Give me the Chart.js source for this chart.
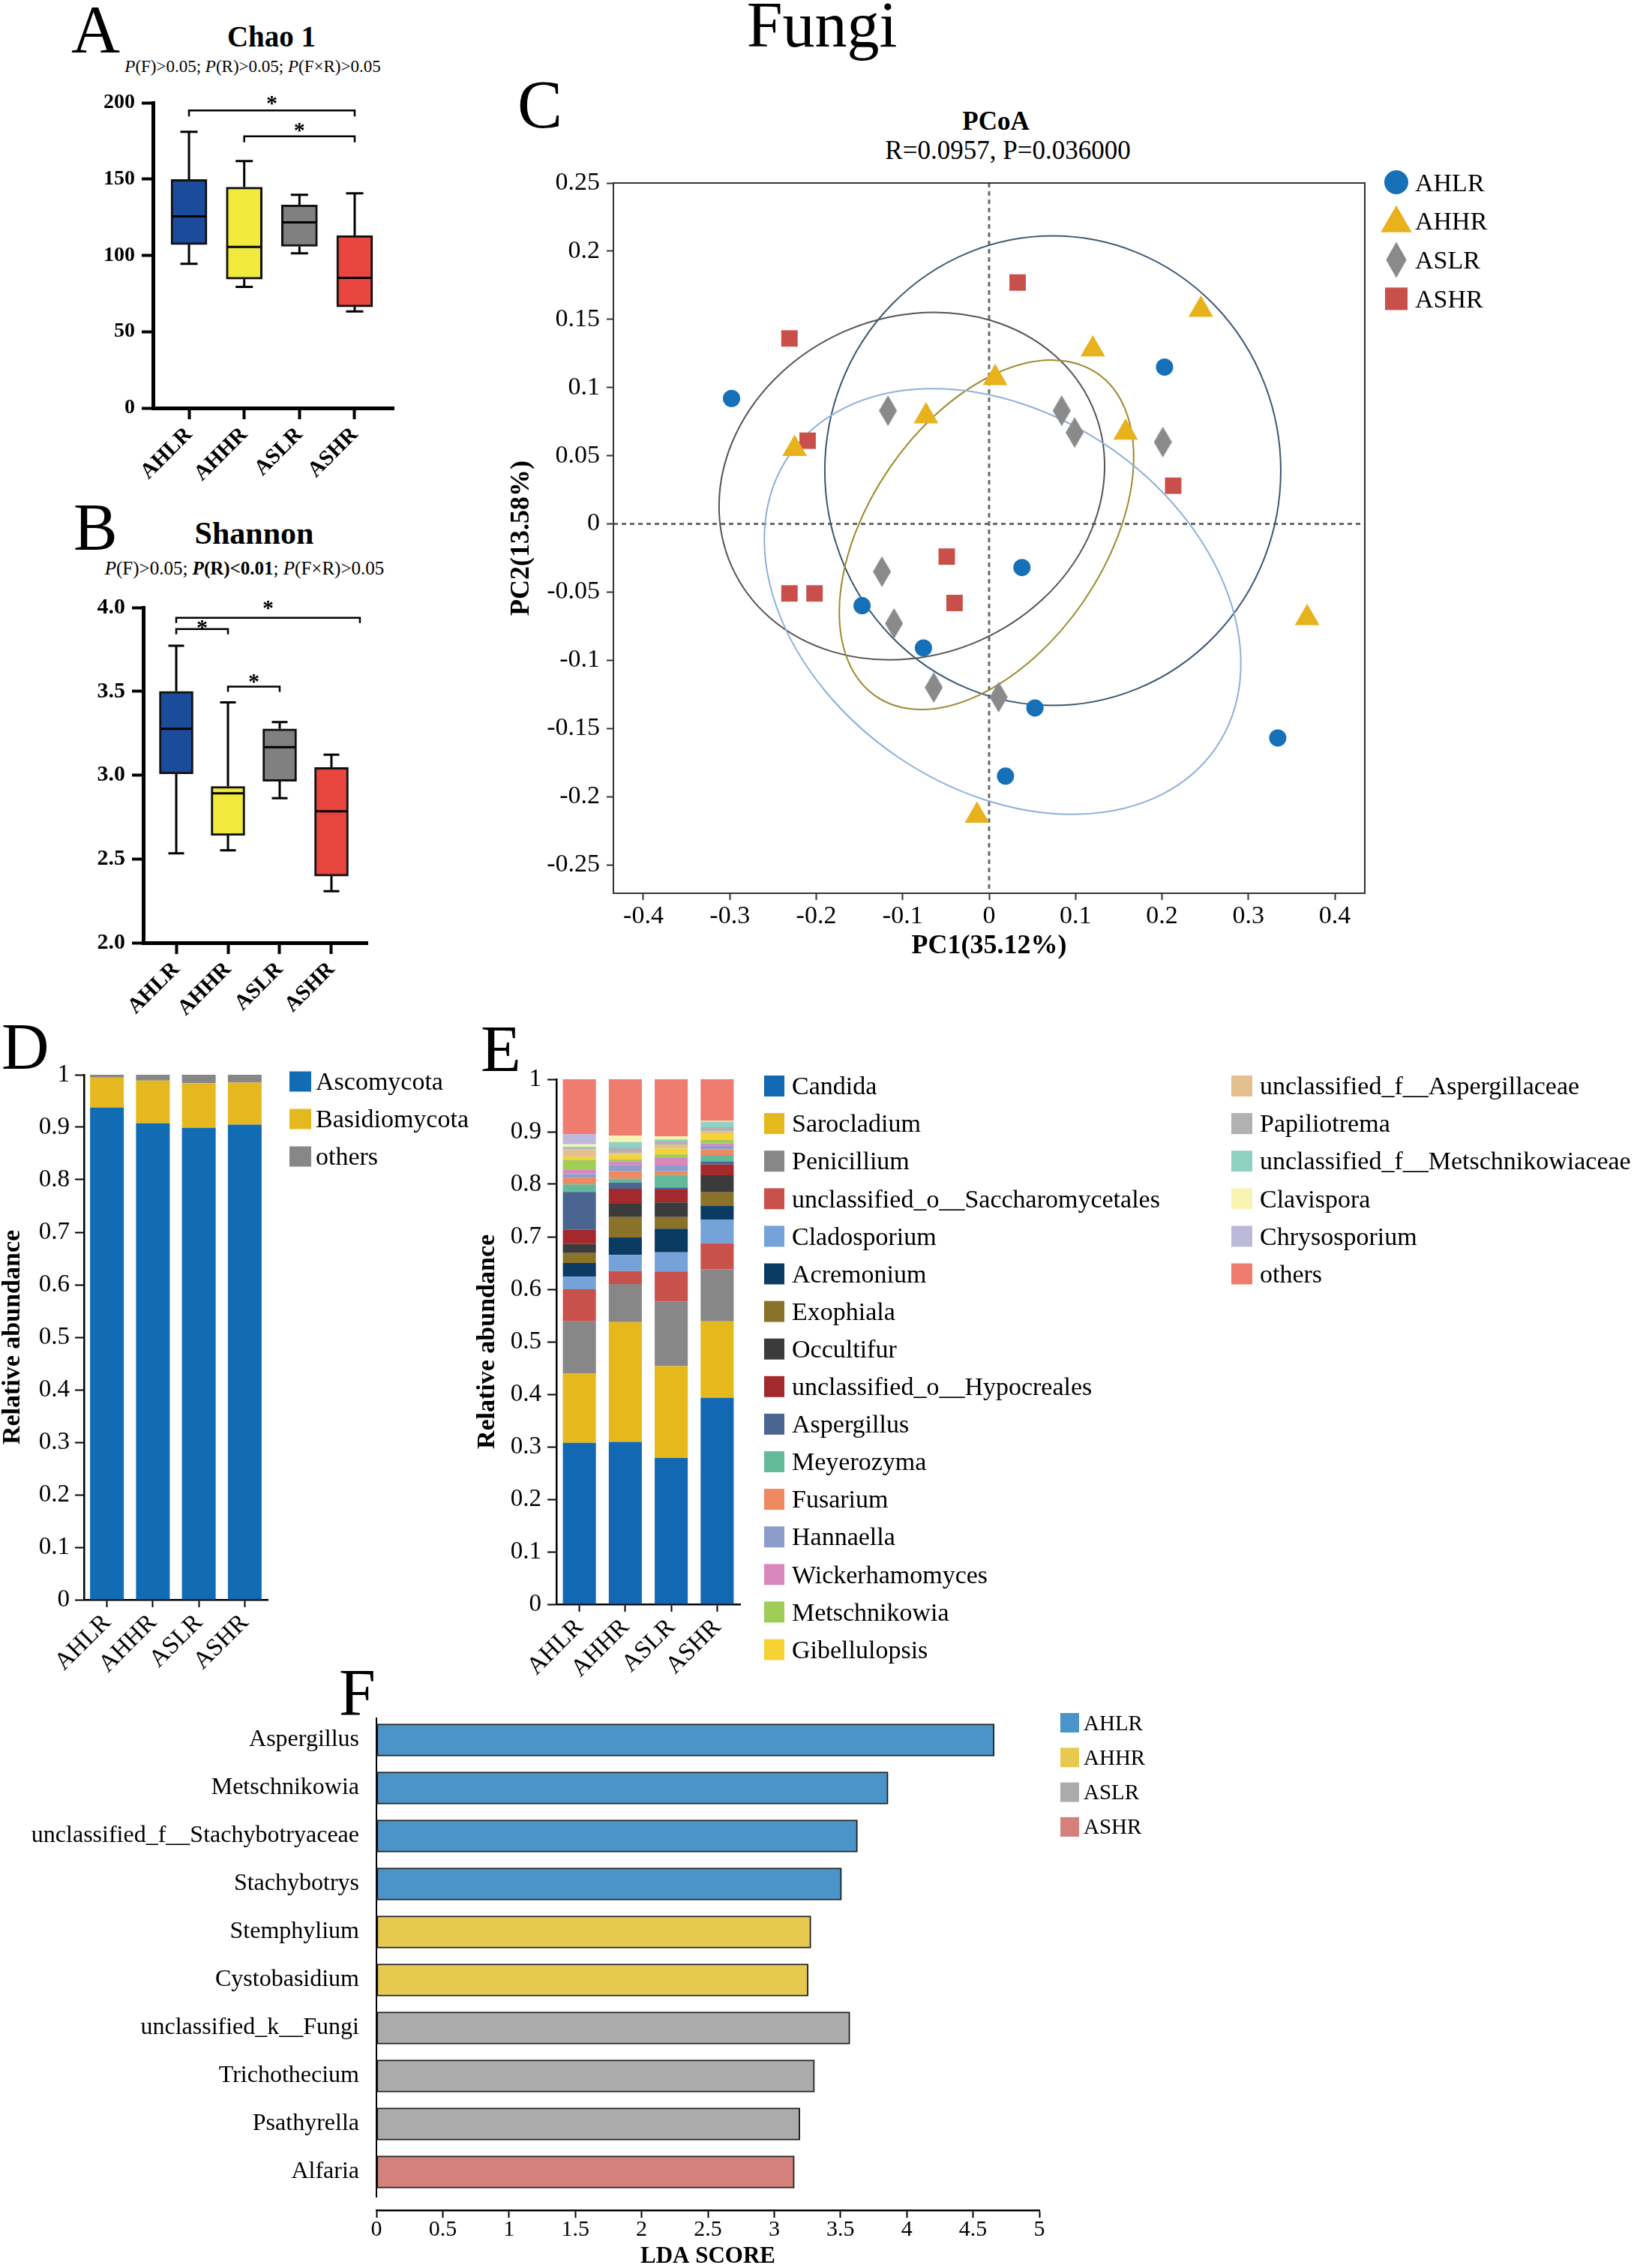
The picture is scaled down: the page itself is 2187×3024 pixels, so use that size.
<!DOCTYPE html>
<html>
<head>
<meta charset="utf-8">
<script src="https://cdn.jsdelivr.net/npm/chart.js@4.4.1/dist/chart.umd.min.js"></script>
<style>
  body { margin: 0; background: #fff; }
  #fig { position: relative; width: 2187px; height: 3024px; overflow: hidden; background: #fff;
         font-family: 'Liberation Serif', 'Times New Roman', Times, serif; color: #000; }
  #fig canvas { position: absolute; }
  .t { position: absolute; line-height: 1; white-space: nowrap; }
</style>
</head>
<body>
<div id="fig"></div>
<script>
// === DATA ===
const groups = ['AHLR', 'AHHR', 'ASLR', 'ASHR'];

// A - Chao 1 (box plot stats per group)
const chaoMin = [94.5, 79.4, 101.3, 63.3];
const chaoQ1  = [107.1, 84.4, 105.9, 66.3];
const chaoMed = [125.6, 105.5, 121.6, 85.2];
const chaoQ3  = [149.7, 144.7, 133.0, 113.0];
const chaoMax = [180.9, 161.8, 139.7, 140.7];
const chaoTicks = [0, 50, 100, 150, 200];
const chaoSig = [[0, 3, 195], [1, 3, 178]];          // from, to, height

// B - Shannon
const shanMin = [2.533, 2.552, 2.862, 2.308];
const shanQ1  = [3.007, 2.640, 2.964, 2.398];
const shanMed = [3.276, 2.892, 3.167, 2.784];
const shanQ3  = [3.500, 2.933, 3.276, 3.046];
const shanMax = [3.772, 3.434, 3.317, 3.122];
const shanTicks = [2.0, 2.5, 3.0, 3.5, 4.0];
const shanSig = [[0, 3.55, 3.939], [0, 1, 3.871], [1, 2, 3.528]];

// C - PCoA
const ahlrPC1 = [-0.298, 0.203, -0.147, -0.076, 0.038, 0.053, 0.334, 0.019];
const ahlrPC2 = [0.092, 0.115, -0.060, -0.091, -0.032, -0.135, -0.157, -0.185];
const ahhrPC1 = [-0.225, -0.073, 0.007, 0.120, 0.245, 0.158, 0.368, -0.014];
const ahhrPC2 = [0.055, 0.079, 0.107, 0.128, 0.157, 0.067, -0.069, -0.214];
const aslrPC1 = [-0.117, 0.084, 0.099, 0.201, -0.124, -0.110, -0.064, 0.011];
const aslrPC2 = [0.083, 0.083, 0.067, 0.060, -0.035, -0.073, -0.120, -0.127];
const ashrPC1 = [-0.231, 0.033, -0.210, 0.213, -0.049, -0.231, -0.202, -0.040];
const ashrPC2 = [0.136, 0.177, 0.061, 0.028, -0.024, -0.051, -0.051, -0.058];
const pcXTicks = [-0.4, -0.3, -0.2, -0.1, 0, 0.1, 0.2, 0.3, 0.4];
const pcYTicks = [-0.25, -0.2, -0.15, -0.1, -0.05, 0, 0.05, 0.1, 0.15, 0.2, 0.25];
// confidence ellipses: centre, semi-axes (PC1 units), rotation (deg)
const ellCx  = [0.0737, -0.0894, -0.0030, 0.0156];
const ellCy  = [0.0390, 0.0277, -0.0080, -0.0569];
const ellA   = [0.2638, 0.2282, 0.2265, 0.2993];
const ellB   = [0.2716, 0.1952, 0.1362, 0.2169];
const ellRot = [0, -24, -55.6, 34.4];

// D - phylum
const phyla = ['Ascomycota', 'Basidiomycota', 'others'];
const ascomycota    = [0.9376, 0.9076, 0.899, 0.905];
const basidiomycota = [0.0571, 0.0814, 0.085, 0.080];
const phylumOthers  = [0.0053, 0.0110, 0.016, 0.015];
const abTicks = [0, 0.1, 0.2, 0.3, 0.4, 0.5, 0.6, 0.7, 0.8, 0.9, 1];

// E - genus
const genera = ['Candida', 'Sarocladium', 'Penicillium', 'unclassified_o__Saccharomycetales',
  'Cladosporium', 'Acremonium', 'Exophiala', 'Occultifur', 'unclassified_o__Hypocreales',
  'Aspergillus', 'Meyerozyma', 'Fusarium', 'Hannaella', 'Wickerhamomyces', 'Metschnikowia',
  'Gibellulopsis', 'unclassified_f__Aspergillaceae', 'Papiliotrema',
  'unclassified_f__Metschnikowiaceae', 'Clavispora', 'Chrysosporium', 'others'];
const genAHLR = [0.3075, 0.1320, 0.0996, 0.0610, 0.0240, 0.0260, 0.0190, 0.0170, 0.0270, 0.0723, 0.0143,
                 0.0129, 0.0066, 0.0091, 0.0181, 0.0057, 0.0143, 0.0022, 0.0030, 0.0043, 0.0195, 0.1048];
const genAHHR = [0.3092, 0.2284, 0.0725, 0.0247, 0.0305, 0.0333, 0.0390, 0.0253, 0.0285, 0.0119, 0.0072,
                 0.0143, 0.0119, 0.0071, 0.0038, 0.0091, 0.0028, 0.0105, 0.0105, 0.0124, 0.0000, 0.1071];
const genASLR = [0.2787, 0.1748, 0.1228, 0.0577, 0.0363, 0.0450, 0.0223, 0.0276, 0.0248, 0.0038, 0.0238,
                 0.0071, 0.0110, 0.0143, 0.0067, 0.0110, 0.0081, 0.0057, 0.0038, 0.0062, 0.0000, 0.1085];
const genASHR = [0.3932, 0.1459, 0.0989, 0.0495, 0.0453, 0.0264, 0.0256, 0.0322, 0.0206, 0.0058, 0.0124,
                 0.0107, 0.0074, 0.0041, 0.0066, 0.0124, 0.0041, 0.0074, 0.0107, 0.0016, 0.0000, 0.0791];

// F - LEfSe
const ldaTaxa = ['Aspergillus', 'Metschnikowia', 'unclassified_f__Stachybotryaceae', 'Stachybotrys',
  'Stemphylium', 'Cystobasidium', 'unclassified_k__Fungi', 'Trichothecium', 'Psathyrella', 'Alfaria'];
const ldaScore = [4.66, 3.859, 3.628, 3.508, 3.277, 3.257, 3.571, 3.304, 3.194, 3.152];
const ldaGroup = [0, 0, 0, 0, 1, 1, 2, 2, 2, 3];
const ldaTicks = [0, 0.5, 1, 1.5, 2, 2.5, 3, 3.5, 4, 4.5, 5];

// === STYLES ===
const boxColors = ['#1b4c9c', '#f1e93c', '#808080', '#e8453f'];
const pcColors  = ['#1670b8', '#e8b21d', '#8a8a8a', '#c9504a'];
const ellColors = ['#3d5873', '#555555', '#9b8b2e', '#8eb0d9'];
const dColors   = ['#126cb4', '#e6b820', '#878787'];
const eColors   = ['#1268b3', '#e5b81c', '#878787', '#c9514b', '#74a2d9', '#0b3a62', '#8b7229', '#3b3b3b',
  '#a3292c', '#4a6590', '#63b99a', '#ef8962', '#8d9dca', '#d988bd', '#a0cc58', '#f6d233', '#e3c08e',
  '#b1b1b1', '#8fd1c3', '#f7f3b2', '#bdb9db', '#ee7c6f'];
const fColors   = ['#4a94c9', '#e8c94f', '#ababab', '#d4817c'];

const SERIF = "'Liberation Serif', 'Times New Roman', Times, serif";
Chart.defaults.font.family = SERIF;
Chart.defaults.color = '#000';
Chart.defaults.animation = false;
Chart.defaults.plugins.legend.display = false;
Chart.defaults.plugins.tooltip.enabled = false;

const fig = document.getElementById('fig');

function fnt(size, bold) {
  return { family: SERIF, size: size, weight: bold ? 'bold' : 'normal', lineHeight: 1 };
}

// text placed by its baseline
function txt(html, x, base, size, o) {
  o = o || {};
  const d = document.createElement('div');
  d.className = 't';
  d.innerHTML = html;
  d.style.fontSize = size + 'px';
  d.style.top = (base - 0.8375 * size) + 'px';
  d.style.left = x + 'px';
  if (o.bold) d.style.fontWeight = 'bold';
  if (o.center) d.style.transform = 'translateX(-50%)';
  fig.appendChild(d);
}

function makeCanvas(L, T, W, H) {
  const c = document.createElement('canvas');
  c.width = W; c.height = H;
  c.style.left = L + 'px'; c.style.top = T + 'px';
  c.style.width = W + 'px'; c.style.height = H + 'px';
  fig.appendChild(c);
  return c;
}

// axis options helper
function axis(o) {
  const col = o.color || '#000';
  const a = {
    offset: !!o.offset,
    border: { display: (o.bw || 0) > 0, width: o.bw || 0, color: col },
    grid: { display: true, drawOnChartArea: false, drawTicks: (o.tl || 0) > 0, tickLength: o.tl || 0,
            tickWidth: o.tw || 2, tickColor: col, offset: false },
    ticks: { font: fnt(o.size, o.bold), padding: o.pad, color: '#000', autoSkip: false,
             minRotation: o.rot || 0, maxRotation: o.rot || 0 },
    afterFit: s => { if (o.w != null) s.width = o.w; if (o.h != null) s.height = o.h; }
  };
  if (o.type) a.type = o.type;
  if (o.min != null) { a.min = o.min; a.max = o.max; a.bounds = 'data'; }
  if (o.stacked) a.stacked = true;
  if (o.reverse) a.reverse = true;
  if (o.vals) a.afterBuildTicks = s => { s.ticks = o.vals.map(v => ({ value: v })); };
  if (o.fmt) a.ticks.callback = o.fmt;
  if (o.title) a.title = { display: true, text: o.title, font: fnt(o.tsize, true), color: '#000', padding: o.tpad };
  return a;
}

function baseOptions(pad, scales, extra) {
  return Object.assign({
    responsive: false, animation: false, devicePixelRatio: 1,
    layout: { padding: pad }, scales: scales,
    plugins: { legend: { display: false }, tooltip: { enabled: false } }
  }, extra || {});
}

// swatch legends drawn on a chart canvas (page coordinates)
function swatchLegend(L, T, items, size) {
  return {
    id: 'swatches',
    afterDraw(ch) {
      const ctx = ch.ctx;
      ctx.save();
      ctx.font = size + 'px ' + SERIF;
      ctx.textBaseline = 'alphabetic';
      items.forEach(it => {
        ctx.fillStyle = it.color;
        ctx.fillRect(it.x - L, it.y - T - it.h / 2, it.w, it.h);
        ctx.fillStyle = '#000';
        ctx.fillText(it.text, it.tx - L, it.y - T + 0.33 * size);
      });
      ctx.restore();
    }
  };
}

// === FIGURE TEXT ===
txt('Fungi', 1096, 62, 86, { center: true });
txt('A', 95, 70, 90);
txt('Chao 1', 362, 62, 39, { bold: true, center: true });
txt('<i>P</i>(F)&gt;0.05; <i>P</i>(R)&gt;0.05; <i>P</i>(F×R)&gt;0.05', 337, 96, 23, { center: true });
txt('B', 98, 733, 88);
txt('Shannon', 339, 725, 42, { bold: true, center: true });
txt('<i>P</i>(F)&gt;0.05; <b><i>P</i>(R)&lt;0.01</b>; <i>P</i>(F×R)&gt;0.05', 326, 766, 25, { center: true });
txt('C', 690, 170, 90);
txt('PCoA', 1328, 173, 35, { bold: true, center: true });
txt('R=0.0957, P=0.036000', 1344, 212, 35, { center: true });
txt('D', 2, 1426, 88);
txt('E', 641, 1429, 88);
txt('F', 452, 2287, 88);

// === A & B : BOX PLOTS ===
function boxChart(L, T, W, H, st, g) {
  const cv = makeCanvas(L, T, W, H);
  const plug = {
    id: 'whiskers',
    beforeDatasetsDraw(ch) {
      const { ctx, scales: { x, y } } = ch;
      ctx.save();
      ctx.strokeStyle = '#000'; ctx.lineWidth = 3;
      groups.forEach((name, i) => {
        const px = x.getPixelForValue(i);
        const yMax = y.getPixelForValue(st.max[i]), yMin = y.getPixelForValue(st.min[i]);
        ctx.beginPath();
        ctx.moveTo(px, yMax); ctx.lineTo(px, y.getPixelForValue(st.q3[i]));
        ctx.moveTo(px, y.getPixelForValue(st.q1[i])); ctx.lineTo(px, yMin);
        ctx.moveTo(px - g.cap, yMax); ctx.lineTo(px + g.cap, yMax);
        ctx.moveTo(px - g.cap, yMin); ctx.lineTo(px + g.cap, yMin);
        ctx.stroke();
      });
      ctx.restore();
    },
    afterDatasetsDraw(ch) {
      const { ctx, scales: { x, y } } = ch;
      ctx.save();
      ctx.strokeStyle = '#000'; ctx.lineWidth = 3;
      groups.forEach((name, i) => {
        const px = x.getPixelForValue(i), pm = y.getPixelForValue(st.med[i]);
        ctx.beginPath();
        ctx.moveTo(px - g.bw / 2 + 2, pm); ctx.lineTo(px + g.bw / 2 - 2, pm);
        ctx.stroke();
      });
      // significance brackets
      ctx.lineWidth = 2.5;
      ctx.fillStyle = '#000';
      ctx.font = 'bold 30px ' + SERIF;
      ctx.textAlign = 'center';
      ctx.textBaseline = 'alphabetic';
      st.sig.forEach((s, k) => {
        const x1 = x.getPixelForValue(s[0]), x2 = x.getPixelForValue(s[1]), yy = y.getPixelForValue(s[2]);
        ctx.beginPath();
        ctx.moveTo(x1, yy + g.drop); ctx.lineTo(x1, yy); ctx.lineTo(x2, yy); ctx.lineTo(x2, yy + g.drop);
        ctx.stroke();
        ctx.fillText('*', (x1 + x2) / 2, yy - g.star[k] + 15);
      });
      ctx.restore();
    }
  };
  return new Chart(cv, {
    type: 'bar',
    data: {
      datasets: [{
        data: groups.map((name, i) => ({ x: i, y: [st.q1[i], st.q3[i]] })),
        backgroundColor: boxColors, borderColor: '#111', borderWidth: 3,
        borderSkipped: false, barThickness: g.bw
      }]
    },
    options: baseOptions(g.pad, {
      x: axis({ type: 'linear', min: g.xmin, max: g.xmax, vals: [0, 1, 2, 3], fmt: v => groups[v],
                size: 29, bold: true, pad: 6, rot: 45, tl: 15, tw: 4, bw: 5, h: g.xH }),
      y: axis({ min: st.ticks[0], max: st.ticks[st.ticks.length - 1], vals: st.ticks, fmt: g.fmt,
                size: g.ysize, bold: true, pad: 9, tl: 15, tw: 4, bw: 5, w: g.yW })
    }),
    plugins: [plug]
  });
}

boxChart(0, 100, 560, 580,
  { min: chaoMin, q1: chaoQ1, med: chaoMed, q3: chaoQ3, max: chaoMax, ticks: chaoTicks, sig: chaoSig },
  { pad: { top: 37, right: 35, left: 0, bottom: 0 }, yW: 204, xH: 136, xmin: -0.652, xmax: 3.706,
    bw: 48, cap: 11.5, drop: 8, star: [15, 14], ysize: 28, fmt: v => String(v) });

boxChart(0, 770, 540, 630,
  { min: shanMin, q1: shanQ1, med: shanMed, q3: shanQ3, max: shanMax, ticks: shanTicks, sig: shanSig },
  { pad: { top: 40, right: 50, left: 0, bottom: 0 }, yW: 191, xH: 143, xmin: -0.638, xmax: 3.696,
    bw: 45, cap: 10.5, drop: 7, star: [19, 8, 12], ysize: 30, fmt: v => v.toFixed(1) });

// === C : PCoA ===
function diamondImg(w, h, color) {
  const c = document.createElement('canvas');
  c.width = w; c.height = h;
  const g = c.getContext('2d');
  g.fillStyle = color;
  g.beginPath();
  g.moveTo(w / 2, 0); g.lineTo(w, h / 2); g.lineTo(w / 2, h); g.lineTo(0, h / 2);
  g.closePath(); g.fill();
  return c;
}

function marker(ctx, shape, x, y, s, color) {
  ctx.fillStyle = color;
  ctx.beginPath();
  if (shape === 'circle') ctx.arc(x, y, s, 0, Math.PI * 2);
  else if (shape === 'triangle') {
    ctx.moveTo(x, y - s); ctx.lineTo(x + s * 0.866, y + s / 2); ctx.lineTo(x - s * 0.866, y + s / 2);
    ctx.closePath();
  } else if (shape === 'diamond') {
    ctx.moveTo(x, y - s); ctx.lineTo(x + s * 0.57, y); ctx.lineTo(x, y + s); ctx.lineTo(x - s * 0.57, y);
    ctx.closePath();
  } else ctx.rect(x - s, y - s, s * 2, s * 2);
  ctx.fill();
}

(function () {
  const L = 660, T = 200;
  const cv = makeCanvas(L, T, 1527, 1090);
  const pts = (xs, ys) => xs.map((v, i) => ({ x: v, y: ys[i] }));
  const plug = {
    id: 'pcoaDecor',
    beforeDatasetsDraw(ch) {
      const { ctx, chartArea: a, scales: { x, y } } = ch;
      ctx.save();
      // zero lines
      ctx.strokeStyle = '#6a6a6a'; ctx.lineWidth = 3; ctx.setLineDash([6, 5]);
      ctx.beginPath();
      ctx.moveTo(x.getPixelForValue(0), a.top); ctx.lineTo(x.getPixelForValue(0), a.bottom);
      ctx.moveTo(a.left, y.getPixelForValue(0)); ctx.lineTo(a.right, y.getPixelForValue(0));
      ctx.stroke();
      ctx.setLineDash([]);
      // ellipses
      const ppu = Math.abs(x.getPixelForValue(1) - x.getPixelForValue(0));
      ctx.lineWidth = 2;
      ellCx.forEach((cx, i) => {
        ctx.strokeStyle = ellColors[i];
        ctx.beginPath();
        ctx.ellipse(x.getPixelForValue(cx), y.getPixelForValue(ellCy[i]), ellA[i] * ppu, ellB[i] * ppu,
                    ellRot[i] * Math.PI / 180, 0, Math.PI * 2);
        ctx.stroke();
      });
      ctx.restore();
    },
    afterDraw(ch) {
      const { ctx, chartArea: a } = ch;
      ctx.save();
      ctx.strokeStyle = '#333'; ctx.lineWidth = 2;
      ctx.strokeRect(a.left, a.top, a.right - a.left, a.bottom - a.top);
      // legend
      const shapes = ['circle', 'triangle', 'diamond', 'square'];
      const sizes = [16, 24, 24, 15];
      ctx.font = '34px ' + SERIF;
      ctx.textBaseline = 'alphabetic';
      groups.forEach((name, i) => {
        const cy = 243 + 51.8 * i - T;
        marker(ctx, shapes[i], 1862 - L, cy + (i === 1 ? 3 : 0), sizes[i], pcColors[i]);
        ctx.fillStyle = '#000';
        ctx.fillText(name, 1887 - L, cy + 11.5);
      });
      ctx.restore();
    }
  };
  new Chart(cv, {
    type: 'scatter',
    data: {
      datasets: [
        { label: 'AHLR', data: pts(ahlrPC1, ahlrPC2), pointStyle: 'circle', pointRadius: 11.5,
          backgroundColor: pcColors[0], borderWidth: 0 },
        { label: 'AHHR', data: pts(ahhrPC1, ahhrPC2), pointStyle: 'triangle', pointRadius: 19,
          backgroundColor: pcColors[1], borderWidth: 0 },
        { label: 'ASLR', data: pts(aslrPC1, aslrPC2), pointStyle: diamondImg(24, 41, pcColors[2]),
          pointRadius: 12, backgroundColor: pcColors[2], borderWidth: 0 },
        { label: 'ASHR', data: pts(ashrPC1, ashrPC2), pointStyle: 'rect', pointRadius: 15.5,
          backgroundColor: pcColors[3], borderWidth: 0 }
      ]
    },
    options: baseOptions({ top: 44, right: 367, left: 0, bottom: 0 }, {
      x: axis({ type: 'linear', min: -0.4347, max: 0.4347, vals: pcXTicks, fmt: v => String(Math.round(v * 10) / 10),
                size: 34, pad: 5, tl: 9, tw: 2, bw: 2, color: '#333', h: 99,
                title: 'PC1(35.12%)', tsize: 36, tpad: { top: 0, bottom: 10 } }),
      y: axis({ type: 'linear', min: -0.2709, max: 0.25, vals: pcYTicks, fmt: v => String(Math.round(v * 100) / 100),
                size: 34, pad: 9, tl: 9, tw: 2, bw: 2, color: '#333', w: 158,
                title: 'PC2(13.58%)', tsize: 36, tpad: { top: 18, bottom: 0 } })
    }),
    plugins: [plug]
  });
})();

// === D : PHYLUM ===
(function () {
  const L = 0, T = 1380;
  const cv = makeCanvas(L, T, 640, 900);
  const series = [ascomycota, basidiomycota, phylumOthers];
  const items = phyla.map((p, k) => ({ text: p, color: dColors[k], x: 386, y: 1442 + 50 * k, w: 29, h: 27, tx: 421 }));
  new Chart(cv, {
    type: 'bar',
    data: {
      labels: groups,
      datasets: phyla.map((p, k) => ({ label: p, data: series[k], backgroundColor: dColors[k], borderWidth: 0,
                                        barPercentage: 0.735, categoryPercentage: 1 }))
    },
    options: baseOptions({ top: 53, right: 283, left: 0, bottom: 0 }, {
      x: axis({ stacked: true, offset: true, size: 33, pad: 4, rot: 45, tl: 10, tw: 2, bw: 2.5, h: 147 }),
      y: axis({ stacked: true, min: 0, max: 1, vals: abTicks, fmt: v => String(Math.round(v * 10) / 10),
                size: 33, pad: 7, tl: 12, tw: 2, bw: 2.5, w: 112,
                title: 'Relative abundance', tsize: 34, tpad: { top: 0, bottom: 0 } })
    }),
    plugins: [swatchLegend(L, T, items, 34)]
  });
})();

// === E : GENUS ===
(function () {
  const L = 620, T = 1380;
  const cv = makeCanvas(L, T, 1567, 900);
  const samples = [genAHLR, genAHHR, genASLR, genASHR];
  const items = genera.map((g, k) => k < 16
    ? { text: g, color: eColors[k], x: 1019, y: 1448 + 50.1 * k, w: 27, h: 28, tx: 1056 }
    : { text: g, color: eColors[k], x: 1642, y: 1448 + 50.1 * (k - 16), w: 28, h: 28, tx: 1680 });
  new Chart(cv, {
    type: 'bar',
    data: {
      labels: groups,
      datasets: genera.map((g, k) => ({ label: g, data: samples.map(s => s[k]), backgroundColor: eColors[k],
                                         borderWidth: 0, barPercentage: 0.72, categoryPercentage: 1 }))
    },
    options: baseOptions({ top: 59, right: 1200, left: 0, bottom: 0 }, {
      x: axis({ stacked: true, offset: true, size: 33, pad: 4, rot: 45, tl: 10, tw: 2, bw: 2.5, h: 141 }),
      y: axis({ stacked: true, min: 0, max: 1, vals: abTicks, fmt: v => String(Math.round(v * 10) / 10),
                size: 33, pad: 8, tl: 12, tw: 2, bw: 2.5, w: 122,
                title: 'Relative abundance', tsize: 34, tpad: { top: 13, bottom: 0 } })
    }),
    plugins: [swatchLegend(L, T, items, 34)]
  });
})();

// === F : LDA ===
(function () {
  const L = 0, T = 2240;
  const cv = makeCanvas(L, T, 1600, 784);
  const items = groups.map((g, k) => ({ text: g, color: fColors[k], x: 1414, y: 2297 + 46.3 * k, w: 25, h: 26, tx: 1445 }));
  const leftLine = {
    id: 'leftLine',
    afterDraw(ch) {
      const ctx = ch.ctx, a = ch.chartArea;
      ctx.save();
      ctx.strokeStyle = '#000'; ctx.lineWidth = 2;
      ctx.beginPath();
      ctx.moveTo(a.left, a.top + 2); ctx.lineTo(a.left, a.bottom - 17);
      ctx.stroke();
      ctx.restore();
    }
  };
  new Chart(cv, {
    type: 'bar',
    data: {
      datasets: [{
        data: ldaScore.map((v, i) => ({ x: v, y: i })),
        backgroundColor: ldaGroup.map(g => fColors[g]),
        borderColor: '#222', borderWidth: 2, borderSkipped: false, barThickness: 43
      }]
    },
    options: baseOptions({ top: 48, right: 214, left: 0, bottom: 0 }, {
      x: axis({ type: 'linear', min: 0, max: 5, vals: ldaTicks, fmt: v => String(v),
                size: 30, pad: 1, tl: 10, tw: 2, bw: 2.5, h: 77,
                title: 'LDA SCORE', tsize: 31, tpad: { top: 0, bottom: 0 } }),
      y: axis({ type: 'linear', reverse: true, min: -0.5, max: 9.797, vals: ldaTaxa.map((t, i) => i),
                fmt: v => ldaTaxa[v], size: 32, pad: 23, tl: 0, bw: 0, w: 502 })
    }, { indexAxis: 'y' }),
    plugins: [leftLine, swatchLegend(L, T, items, 29)]
  });
})();
</script>
</body>
</html>
